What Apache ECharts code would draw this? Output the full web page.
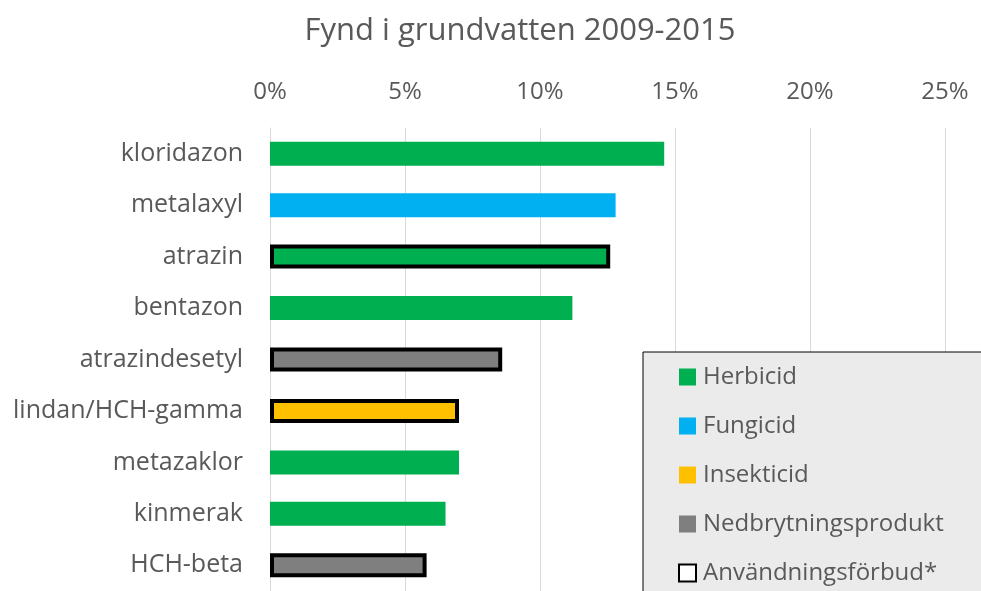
<!DOCTYPE html>
<html>
<head>
<meta charset="utf-8">
<script src="https://cdn.jsdelivr.net/npm/echarts@6/dist/echarts.min.js"></script>
<style>
  html, body { margin: 0; padding: 0; background: #fff; }
  #chart { width: 981px; height: 591px; }
</style>
</head>
<body>
<div id="chart"></div>
<script>
// ämnen och andel fynd (%)
var substances = ['kloridazon', 'metalaxyl', 'atrazin', 'bentazon', 'atrazindesetyl', 'lindan/HCH-gamma', 'metazaklor', 'kinmerak', 'HCH-beta']
var shares = [14.6, 12.8, 12.6, 11.2, 8.6, 7.0, 7.0, 6.5, 5.8]
var kinds = ['Herbicid', 'Fungicid', 'Herbicid', 'Herbicid', 'Nedbrytningsprodukt', 'Insekticid', 'Herbicid', 'Herbicid', 'Nedbrytningsprodukt']
var banned = [false, false, true, false, true, true, false, false, true]
var kindNames = ['Herbicid', 'Fungicid', 'Insekticid', 'Nedbrytningsprodukt']
var kindColors = ['#00b050', '#00b0f0', '#ffc000', '#7f7f7f']
var xTicks = [0, 5, 10, 15, 20, 25]

var font = 'Open Sans'
var textColor = '#595959'

let chart = echarts.init(document.getElementById('chart'))

let series = kindNames.map(function (kind, k) {
  return {
    name: kind,
    type: 'bar',
    stack: 'alla',
    barWidth: 24,
    itemStyle: { color: kindColors[k] },
    data: shares.map(function (v, i) {
      if (kinds[i] !== kind) return '-'
      if (banned[i]) {
        return { value: v, itemStyle: { borderColor: '#000', borderWidth: 4 } }
      }
      return v
    })
  }
})
// bara för legenden
series.push({
  name: 'Användningsförbud*',
  type: 'bar',
  stack: 'alla',
  itemStyle: { color: '#fff', borderColor: '#000', borderWidth: 4 },
  data: []
})

let option = {
  animation: false,
  backgroundColor: '#fff',
  title: {
    text: 'Fynd i grundvatten 2009-2015',
    left: 515,
    textAlign: 'center',
    top: 11,
    textStyle: { fontFamily: font, fontSize: 31, fontWeight: 'normal', color: textColor }
  },
  legend: {
    orient: 'vertical',
    left: 643,
    top: 352,
    height: 300,
    itemWidth: 17,
    itemHeight: 17,
    itemGap: 25,
    icon: 'rect',
    padding: [13, 140, 40, 35],
    backgroundColor: '#ebebeb',
    borderColor: '#000',
    borderWidth: 1,
    borderRadius: 0,
    textStyle: { fontFamily: font, fontSize: 24, color: textColor, padding: [0, 0, 0, 2] },
    data: kindNames.concat(['Användningsförbud*'])
  },
  grid: {
    left: 270,
    width: 675,
    top: 128,
    height: 472,
    containLabel: false
  },
  xAxis: {
    type: 'value',
    position: 'top',
    min: xTicks[0],
    max: xTicks[xTicks.length - 1],
    interval: 5,
    axisLine: { show: false },
    axisTick: { show: false },
    splitLine: { lineStyle: { color: '#d9d9d9', width: 1 } },
    axisLabel: {
      formatter: '{value}%',
      margin: 24,
      fontFamily: font,
      fontSize: 24,
      color: textColor
    }
  },
  yAxis: {
    type: 'category',
    inverse: true,
    data: substances,
    axisLine: { show: true, lineStyle: { color: '#d9d9d9', width: 1 } },
    axisTick: { show: false },
    axisLabel: {
      margin: 27,
      fontFamily: font,
      fontSize: 25,
      color: textColor
    }
  },
  series: series
}

chart.setOption(option)
</script>
</body>
</html>
